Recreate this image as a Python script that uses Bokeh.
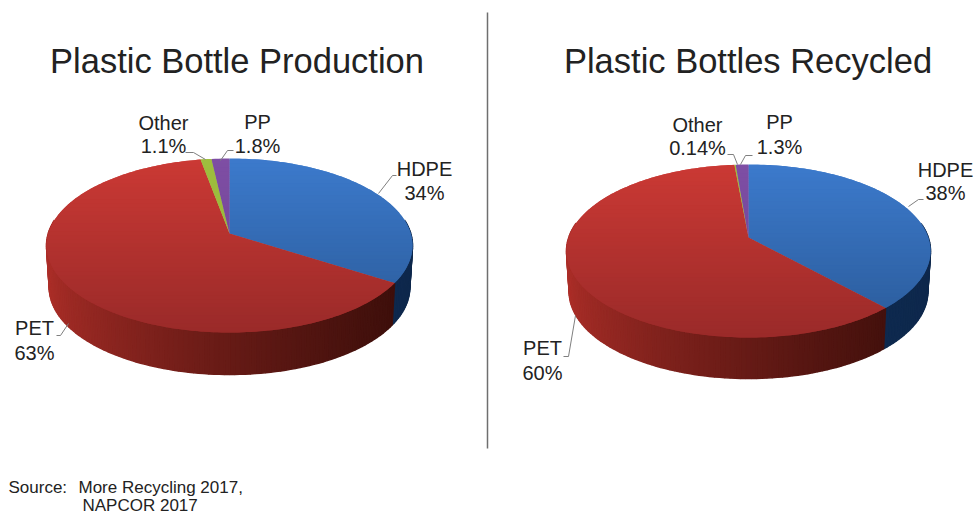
import math
from bokeh.plotting import figure
from bokeh.embed import file_html
from bokeh.resources import INLINE
from bokeh.core.properties import value

categories = ["HDPE", "PET", "Other", "PP"]
production = [34, 63, 1.1, 1.8]
recycled = [38, 60, 0.14, 1.3]
titles = ["Plastic Bottle Production", "Plastic Bottles Recycled"]
source_lines = ["Source:", "More Recycling 2017,", "NAPCOR 2017"]
production_labels = ["34%", "63%", "1.1%", "1.8%"]
recycled_labels = ["38%", "60%", "0.14%", "1.3%"]

W, H = 975, 516
FONT = value("Liberation Sans")
TEXT = "#222222"
LEADER = "#7f7f7f"

TOP = {
    "HDPE": ((60, 122, 204), (42, 90, 152)),
    "PET": ((203, 57, 52), (154, 42, 41)),
    "Other": ((158, 190, 62), (150, 180, 58)),
    "PP": ((126, 78, 164), (110, 66, 146)),
}
SIDE = {
    "HDPE": ((20, 56, 104), (14, 40, 76)),
    "PET": ((172, 46, 40), (58, 14, 10)),
    "Other": ((100, 120, 40), (90, 110, 36)),
    "PP": ((80, 50, 110), (70, 44, 100)),
}

p = figure(width=W, height=H, x_range=(0, W), y_range=(H, 0),
           output_backend="svg", toolbar_location=None, min_border=0,
           outline_line_color=None, background_fill_color="white",
           border_fill_color="white")
p.axis.visible = False
p.grid.visible = False


def hexc(a, b, t):
    t = max(0.0, min(1.0, t))
    return "#%02x%02x%02x" % tuple(round(a[i] + (b[i] - a[i]) * t) for i in range(3))


def rim(theta, g):
    # perspective view of a circle: the centre of the pie sits above the ellipse centre
    u, v = math.sin(theta), math.cos(theta)
    a = g["a"]
    d = 1 + a * v
    return (g["cx"] + g["rx"] * u * math.sqrt(1 - a * a) / d,
            g["cy"] - g["ry"] * (v + a) / d)


def clip(poly, y0, y1):
    def cut(pts, inside, yb):
        out = []
        for i, q in enumerate(pts):
            r = pts[(i + 1) % len(pts)]
            if inside(q[1]):
                out.append(q)
            if inside(q[1]) != inside(r[1]):
                t = (yb - q[1]) / (r[1] - q[1])
                out.append((q[0] + (r[0] - q[0]) * t, yb))
        return out
    res = cut(poly, lambda y: y >= y0, y0)
    if res:
        res = cut(res, lambda y: y <= y1, y1)
    return res


def pie(values, g):
    total = sum(values)
    bounds, acc = [], 0.0
    for v in values:
        bounds.append((acc / total * 2 * math.pi, (acc + v) / total * 2 * math.pi))
        acc += v
    # side wall; the lower rim is slightly narrower, as in a perspective view
    xs, ys, cs = [], [], []
    x_left, x_right = g["cx"] - g["rx"], g["cx"] + g["rx"]
    shrink = 0.985
    for name, (t0, t1) in zip(categories, bounds):
        n = max(1, int((t1 - t0) / 0.025))
        for i in range(n):
            a0 = t0 + (t1 - t0) * i / n
            a1 = t0 + (t1 - t0) * (i + 1) / n
            if math.cos(a0) > g["a"] and math.cos(a1) > g["a"]:
                continue
            q0, q1 = rim(a0, g), rim(a1, g)
            b1 = g["cx"] + (q1[0] - g["cx"]) * shrink
            b0 = g["cx"] + (q0[0] - g["cx"]) * shrink
            xs.append([q0[0], q1[0], b1, b0])
            ys.append([q0[1], q1[1], q1[1] + g["d"], q0[1] + g["d"]])
            s = ((q0[0] + q1[0]) / 2 - x_left) / (x_right - x_left)
            cs.append(hexc(SIDE[name][0], SIDE[name][1], s ** 0.7))
    p.patches(xs, ys, fill_color=cs, line_color=cs, line_width=1.5)
    # top face in thin horizontal bands for its gradient; the second pass,
    # shifted half a band, hides the antialiased seams of the first
    top, bottom = g["cy"] - g["ry"], g["cy"] + g["ry"]
    apex = (g["cx"], g["cy"] - g["ry"] * g["a"])
    for offset in (-1, 1):
        xs, ys, cs = [], [], []
        for name, (t0, t1) in zip(categories, bounds):
            n = max(2, int((t1 - t0) / 0.02))
            poly = [rim(t0 + (t1 - t0) * i / n, g) for i in range(n + 1)]
            poly.append(apex)
            y = top + offset
            while y < bottom + 1:
                part = clip(poly, y, y + 4)
                if len(part) >= 3:
                    xs.append([q[0] for q in part])
                    ys.append([q[1] for q in part])
                    cs.append(hexc(TOP[name][0], TOP[name][1], (y + 2 - top) / (bottom - top)))
                y += 4
        p.patches(xs, ys, fill_color=cs, line_color=None)


left = dict(cx=229, cy=245, rx=183, ry=87, a=0.138, d=42)
right = dict(cx=748, cy=250.5, rx=182, ry=86.5, a=0.156, d=41)
pie(production, left)
pie(recycled, right)

# divider
p.line([487, 487], [12, 448], line_color="#6f6f6f", line_width=1.5)

# leader lines
leaders = [
    ([185, 193, 205], [152, 152, 159]),
    ([220, 227, 233], [160, 150, 150]),
    ([378, 392, 396], [193, 175, 175]),
    ([56, 60, 68], [335, 335, 323]),
    ([727, 733, 737], [154, 154, 164]),
    ([740, 745, 752], [164, 155, 155]),
    ([908, 918, 923], [206, 199, 199]),
    ([563, 568, 575], [356, 356, 315]),
]
for lx, ly in leaders:
    p.line(lx, ly, line_color=LEADER, line_width=1)

# titles
p.text([236.5, 747.5], [60, 60], text=titles, text_font=FONT, text_font_size="34.5px",
       text_color=TEXT, text_align="center", text_baseline="middle")

# data labels
lab_x = [424, 34, 163, 257, 945, 542, 697, 779]
name_y = [168, 327, 122, 121, 169, 347, 124, 121]
val_y = [192, 352, 145, 145, 192, 372, 147, 146]
names = categories + categories
vals = production_labels + recycled_labels
p.text(lab_x, name_y, text=names, text_font=FONT, text_font_size="20px",
       text_color=TEXT, text_align="center", text_baseline="middle")
p.text(lab_x, val_y, text=vals, text_font=FONT, text_font_size="20px",
       text_color=TEXT, text_align="center", text_baseline="middle")

# source
p.text([8, 78, 82], [487, 487, 505], text=source_lines, text_font=FONT, text_font_size="17px",
       text_color=TEXT, text_align="left", text_baseline="middle")

open("out.html", "w").write(file_html(p, INLINE))
